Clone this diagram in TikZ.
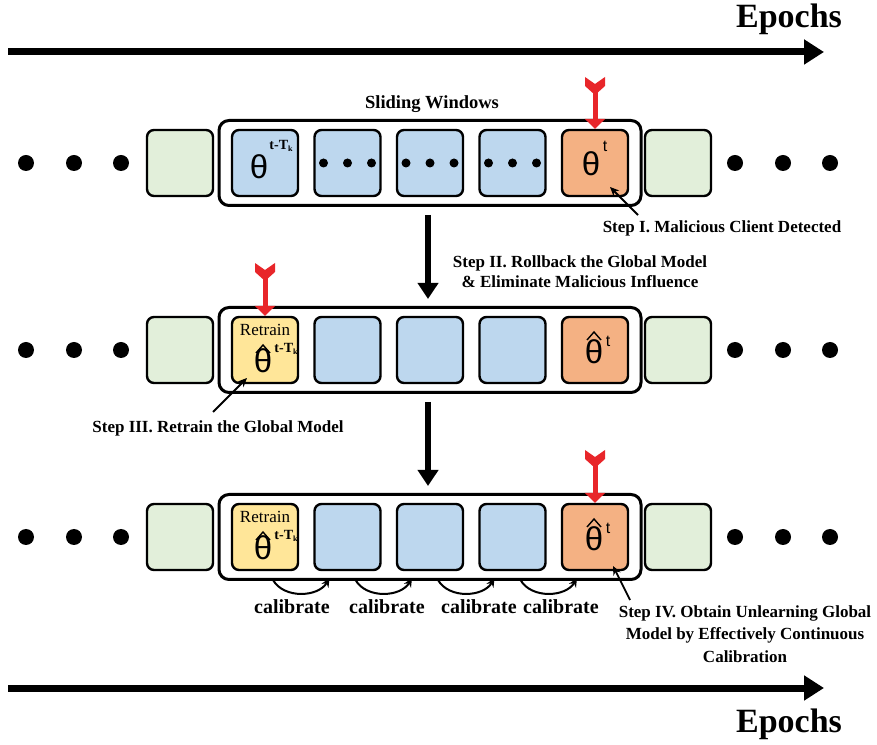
\documentclass[tikz,border=0pt]{standalone}
\usepackage{fontspec}
\setmainfont{Liberation Serif}
\newfontfamily\sansf{Liberation Sans}
\usetikzlibrary{arrows.meta}
\definecolor{cblue}{HTML}{BDD7EE}
\definecolor{corange}{HTML}{F4B183}
\definecolor{cgreen}{HTML}{E2EFDA}
\definecolor{cyellow}{HTML}{FFE699}
\definecolor{cred}{HTML}{E8262A}
\tikzset{
  cell/.style={draw=black, line width=2.4pt, rounded corners=7pt, minimum width=66pt, minimum height=66pt, inner sep=0pt},
  bluecell/.style={cell, fill=cblue},
  orangecell/.style={cell, fill=corange},
  greencell/.style={cell, fill=cgreen},
  yellowcell/.style={cell, fill=cyellow},
  window/.style={draw=black, line width=3pt, rounded corners=10pt, minimum width=422pt, minimum height=85pt, inner sep=0pt},
  ann/.style={font=\fontsize{17}{20}\selectfont\bfseries, align=center, inner sep=0pt},
  thetatxt/.style={font=\sansf\fontsize{33}{33}\selectfont, inner sep=0pt},
  suptxt/.style={font=\fontsize{14}{14}\selectfont\bfseries, inner sep=0pt},
  tsup/.style={font=\sansf\fontsize{16}{16}\selectfont, inner sep=0pt},
  retr/.style={font=\fontsize{17}{17}\selectfont, inner sep=0pt},
  caltxt/.style={font=\fontsize{20}{22}\selectfont\bfseries, inner sep=0pt},
  epochtxt/.style={font=\fontsize{34}{36}\selectfont\bfseries, inner sep=0pt, anchor=base},
  epocharrow/.style={line width=7pt, -{Triangle[length=20pt,width=24pt]}},
  bigarrow/.style={line width=6pt, -{Triangle[length=16pt,width=20pt]}},
  annarrow/.style={line width=1.8pt, -{Stealth[length=9pt,width=8pt]}},
  calarrow/.style={line width=2pt, -{Stealth[length=9pt,width=8pt]}},
  redarrow/.style={draw=cred, line width=5pt, -{Triangle[length=10pt,width=20pt]}},
  hatline/.style={line width=1.4pt, line join=miter},
}
\newcommand\fletch[2]{% x, top y
  \fill[cred] (#1-10,#2) -- (#1,#2-7) -- (#1+10,#2) -- (#1+10,#2-9) -- (#1,#2-18) -- (#1-10,#2-9) -- cycle;}
\newcommand\supTk{t-T\raisebox{-2pt}{\fontsize{8}{8}\selectfont k}}
\begin{document}
\begin{tikzpicture}[x=1pt,y=1pt]
\useasboundingbox (0,0) rectangle (877,744);

% epochs arrows
\coordinate (ta) at (8,692);
\coordinate (tb) at (824,692);
\draw[epocharrow] (ta) -- (tb);
\node[epochtxt] (ep1) at (789,716) {Epochs};
\coordinate (ba) at (8,56);
\coordinate (bb) at (824,56);
\draw[epocharrow] (ba) -- (bb);
\node[epochtxt] (ep2) at (789,12) {Epochs};

% rows
\foreach \r/\Y in {1/581,2/394,3/207}{
  \node[window] (w\r) at (430,\Y) {};
  \node[greencell] (gl\r) at (180,\Y) {};
  \node[greencell] (gr\r) at (678,\Y) {};
  \node[bluecell] (b\r2) at (347.5,\Y) {};
  \node[bluecell] (b\r3) at (430,\Y) {};
  \node[bluecell] (b\r4) at (512.5,\Y) {};
  \node[orangecell] (o\r) at (595,\Y) {};
  \foreach \dx in {26,74,121,735,783,830}{\fill (\dx,\Y) circle (8);}
}
\node[bluecell] (b11) at (265,581) {};
\node[yellowcell] (y2) at (265,394) {};
\node[yellowcell] (y3) at (265,207) {};

% row 1 content
\node[ann, font=\fontsize{18.5}{20}\selectfont\bfseries] (sw) at (432,640) {Sliding Windows};
\node[thetatxt] (t11) at ([shift={(-6,-4)}]b11.center) {θ};
\node[suptxt] (t11s) at ([shift={(16,17)}]b11.center) {\supTk};
\foreach \b in {b12,b13,b14}{
  \foreach \dx in {-24,0,24}{\fill ([xshift=\dx]\b.center) circle (4.5);}
}
\node[thetatxt] (to1) at ([shift={(-4,-1)}]o1.center) {θ};
\node[tsup] (to1s) at ([shift={(10,17)}]o1.center) {t};

% rows 2 and 3 content
\foreach \r in {2,3}{
  \node[retr] (rt\r) at ([shift={(0,20)}]y\r.center) {Retrain};
  \node[thetatxt] (ty\r) at ([shift={(-2,-11)}]y\r.center) {θ};
  \draw[hatline] ([shift={(-7,8)}]ty\r.center) -- ([shift={(0,16)}]ty\r.center) -- ([shift={(7,8)}]ty\r.center);
  \node[suptxt] (tys\r) at ([shift={(21,1)}]y\r.center) {\supTk};
  \node[thetatxt] (tor\r) at ([shift={(-1,-2)}]o\r.center) {θ};
  \draw[hatline] ([shift={(-7,12)}]tor\r.center) -- ([shift={(0,20)}]tor\r.center) -- ([shift={(7,12)}]tor\r.center);
  \node[tsup] (tors\r) at ([shift={(13,9)}]o\r.center) {t};
}

% red markers
\fletch{595}{667}
\coordinate (r1) at (595,655);
\draw[redarrow] (r1) -- (o1.north);
\fletch{265}{481}
\coordinate (r2) at (265,469);
\draw[redarrow] (r2) -- (y2.north);
\fletch{595}{294}
\coordinate (r3) at (595,282);
\draw[redarrow] (r3) -- (o3.north);

% big down arrows
\draw[bigarrow] ([shift={(-2,-8)}]w1.south) -- ([shift={(-2,7)}]w2.north);
\draw[bigarrow] ([shift={(-2,-8)}]w2.south) -- ([shift={(-2,7)}]w3.north);

% annotations
\node[ann] (s1) at (722,516) {Step I. Malicious Client Detected};
\coordinate (s1a) at (638,529);
\draw[annarrow] (s1a) -- ([shift={(15,-24)}]o1.center);
\node[ann] (s2) at (580,472) {Step II. Rollback the Global Model\\[0pt]\& Eliminate Malicious Influence};
\node[ann] (s3) at (218,316) {Step III. Retrain the Global Model};
\coordinate (s3a) at (213,332);
\draw[annarrow] (s3a) -- ([shift={(-18,-28)}]y2.center);
\node[ann, font=\fontsize{17}{22.5}\selectfont\bfseries] (s4) at (745,110) {Step IV. Obtain Unlearning Global\\Model by Effectively Continuous\\Calibration};
\coordinate (s4a) at (630,144);
\draw[annarrow] (s4a) -- ([shift={(18,-29)}]o3.center);

% calibrate arcs
\draw[calarrow] ([shift={(8,-43)}]y3.center) to[out=-60,in=-120] ([shift={(-18,-41)}]b32.center);
\draw[calarrow] ([shift={(8,-43)}]b32.center) to[out=-60,in=-120] ([shift={(-18,-41)}]b33.center);
\draw[calarrow] ([shift={(8,-43)}]b33.center) to[out=-60,in=-120] ([shift={(-18,-41)}]b34.center);
\draw[calarrow] ([shift={(8,-43)}]b34.center) to[out=-60,in=-120] ([shift={(-18,-41)}]o3.center);
\node[caltxt] (c1) at (292,137) {calibrate};
\node[caltxt] (c2) at (387,137) {calibrate};
\node[caltxt] (c3) at (479,137) {calibrate};
\node[caltxt] (c4) at (561,137) {calibrate};
\end{tikzpicture}
\end{document}
